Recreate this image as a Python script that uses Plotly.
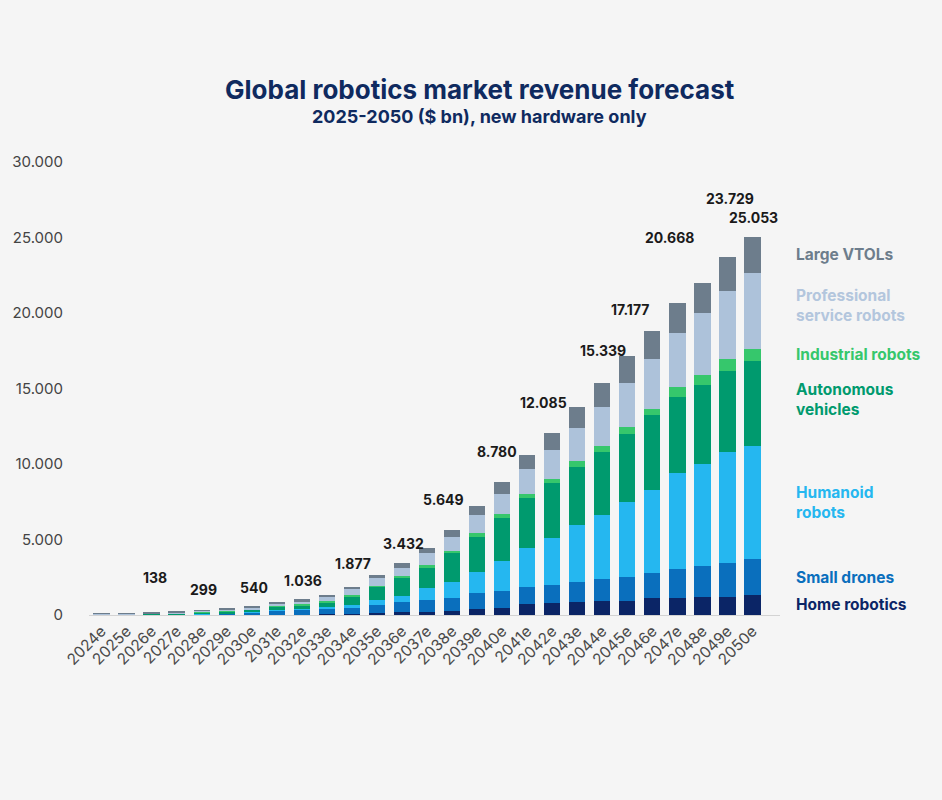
import plotly.graph_objects as go

# data, $ bn
years = [f"{y}e" for y in range(2024, 2051)]

home_robotics = [0, 0, 0, 0, 0, 0, 5, 10, 20, 40, 70, 130, 180, 219, 285, 417, 483,
                 709, 775, 881, 927, 947, 1106, 1146, 1172, 1212, 1325]
small_drones = [5, 8, 10, 25, 60, 110, 160, 280, 336, 370, 400, 528, 650, 774, 861, 1020, 1126,
                1126, 1212, 1285, 1437, 1590, 1656, 1901, 2093, 2212, 2384]
humanoid = [0, 0, 2, 5, 10, 20, 40, 60, 70, 120, 200, 349, 434, 775, 1059, 1431, 1987,
            2622, 3133, 3795, 4259, 4967, 5517, 6338, 6716, 7391, 7504]
autonomous = [5, 10, 60, 90, 120, 130, 170, 200, 230, 330, 545, 855, 1210, 1365, 1881, 2318, 2848,
              3272, 3642, 3861, 4192, 4484, 4947, 5073, 5252, 5365, 5609]
industrial = [5, 5, 8, 10, 12, 15, 20, 20, 45, 66, 90, 66, 106, 179, 153, 225, 225,
              285, 245, 377, 398, 443, 437, 623, 662, 755, 775]
professional = [60, 70, 50, 60, 70, 90, 105, 170, 225, 290, 390, 507, 552, 774, 947, 1212, 1345,
                1636, 1921, 2166, 2543, 2915, 3292, 3616, 4087, 4524, 5074]
large_vtols = [5, 7, 8, 15, 27, 35, 40, 60, 110, 120, 182, 217, 300, 371, 463, 616, 766,
               947, 1157, 1391, 1583, 1831, 1854, 1971, 1987, 2270, 2382]

labelled_years = ["2026e", "2028e", "2030e", "2032e", "2034e", "2036e", "2038e",
                  "2040e", "2042e", "2044e", "2045e", "2047e", "2049e", "2050e"]

series = [
    ("Home robotics", home_robotics, "#0b2566"),
    ("Small drones", small_drones, "#0a6fbd"),
    ("Humanoid robots", humanoid, "#25b7f0"),
    ("Autonomous vehicles", autonomous, "#009a6e"),
    ("Industrial robots", industrial, "#36c76c"),
    ("Professional service robots", professional, "#adc2da"),
    ("Large VTOLs", large_vtols, "#6d7d8c"),
]

totals = [sum(v) for v in zip(*[s[1] for s in series])]

fig = go.Figure()
for name, values, color in series:
    fig.add_trace(go.Bar(
        name=name, x=years, y=values,
        marker=dict(color=color, line=dict(width=0)),
        hoverinfo="x+y+name",
    ))

# total labels above some bars (shifts in px to mimic the original placement)
label_xshift = [3, 2, 2, 1, 1, 2, -9, -5, -9, 1, 3, -8, 3, 1]
label_yshift = [25, 10, 9, 8, 13, 9, 20, 20, 20, 22, 36, 55, 48, 9]
for yr, dx, dy in zip(labelled_years, label_xshift, label_yshift):
    tot = totals[years.index(yr)]
    fig.add_annotation(
        x=yr, y=tot, text=f"<b>{tot:,}</b>".replace(",", "."),
        showarrow=False, yanchor="bottom", xshift=dx, yshift=dy,
        font=dict(size=14, color="#1a1a1a"),
    )

# series names on the right
side_labels = [
    ("Large VTOLs", 0.795, "#6d7d8c"),
    ("Professional<br>service robots", 0.684, "#b3c6dd"),
    ("Industrial robots", 0.574, "#36c76c"),
    ("Autonomous<br>vehicles", 0.475, "#009a6e"),
    ("Humanoid<br>robots", 0.249, "#25b7f0"),
    ("Small drones", 0.082, "#0a6fbd"),
    ("Home robotics", 0.024, "#0b2566"),
]
for text, ypos, color in side_labels:
    fig.add_annotation(
        xref="paper", yref="paper", x=1.02, y=ypos, text=f"<b>{text}</b>",
        showarrow=False, xanchor="left", yanchor="middle", align="left",
        font=dict(size=15.5, color=color),
    )

fig.add_annotation(
    xref="paper", yref="paper", x=0.5655, y=1.159,
    text="<b>Global robotics market revenue forecast</b>",
    showarrow=False, xanchor="center", yanchor="middle",
    font=dict(size=26, color="#0f2a5f"),
)
fig.add_annotation(
    xref="paper", yref="paper", x=0.5655, y=1.1015,
    text="<b>2025-2050 ($ bn), new hardware only</b>",
    showarrow=False, xanchor="center", yanchor="middle",
    font=dict(size=18, color="#0f2a5f"),
)

fig.update_layout(
    width=942, height=800,
    barmode="stack", bargap=0.35,
    showlegend=False,
    separators=",.",
    paper_bgcolor="#f5f5f5", plot_bgcolor="#f5f5f5",
    font=dict(family="Inter, Open Sans, sans-serif", color="#444444"),
    margin=dict(l=78, r=162, t=162, b=185),
)
fig.update_xaxes(
    tickangle=-45, tickfont=dict(size=15.5, color="#4a4a4a"),
    showline=True, linecolor="#d3d3d3", linewidth=1,
    showgrid=False, ticks="",
)
fig.update_yaxes(
    range=[0, 30000], tickvals=[0, 5000, 10000, 15000, 20000, 25000, 30000],
    tickformat=",", tickfont=dict(size=15, color="#444444"),
    showgrid=False, zeroline=False, showline=False,
    ticklabelstandoff=25,
)

# page body has an 8px default margin; drop it so the figure fills the window
fig.write_html(
    "out.html",
    config={"displayModeBar": False},
    post_script="document.body.style.margin='0';document.body.style.background='#f5f5f5';",
)
